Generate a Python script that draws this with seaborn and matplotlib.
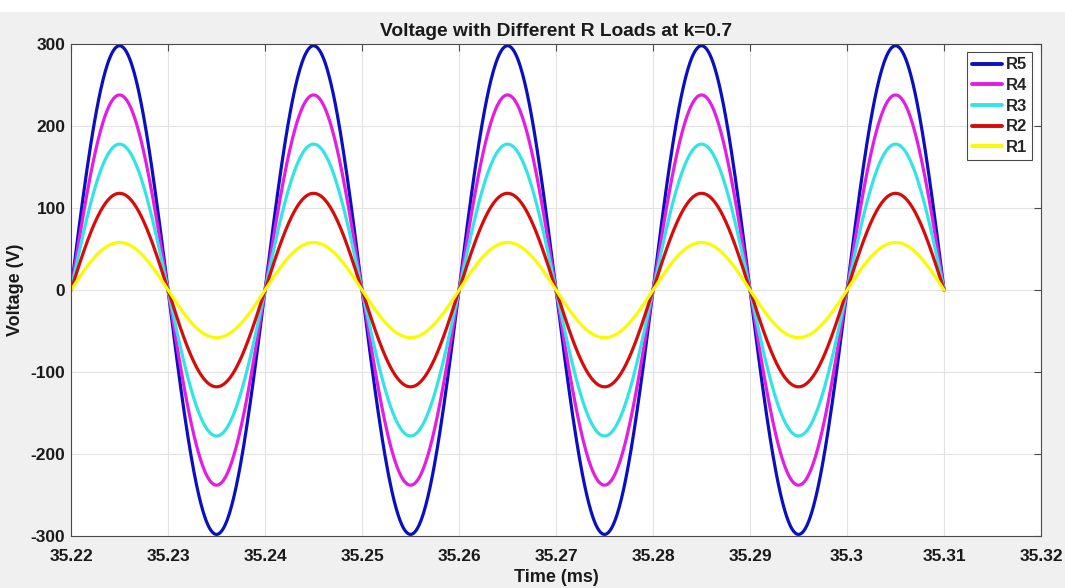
import numpy as np
import pandas as pd
import matplotlib
matplotlib.use("Agg")
import matplotlib.pyplot as plt
from matplotlib.patches import Rectangle
import seaborn as sns

# ---- data ----
series_names = ["R5", "R4", "R3", "R2", "R1"]
amplitudes = [298, 238, 178, 118, 58]          # peak voltage (V)
t_start, t_end = 35.22, 35.31                  # time span (ms)
period = 0.02                                  # waveform period (ms)
x_ticks = [35.22, 35.23, 35.24, 35.25, 35.26, 35.27, 35.28, 35.29, 35.30, 35.31, 35.32]
x_tick_labels = ["35.22", "35.23", "35.24", "35.25", "35.26", "35.27",
                 "35.28", "35.29", "35.3", "35.31", "35.32"]
y_ticks = [-300, -200, -100, 0, 100, 200, 300]
colors = {"R5": "#0a0fc0", "R4": "#e31ee3", "R3": "#33e3e6",
          "R2": "#d80a0a", "R1": "#fafa00"}

t = np.linspace(t_start, t_end, 1200)
frames = []
for name, amp in zip(series_names, amplitudes):
    frames.append(pd.DataFrame({"Time": t,
                                "Voltage": amp * np.sin(2 * np.pi * (t - t_start) / period),
                                "Load": name}))
df = pd.concat(frames, ignore_index=True)

sns.set_theme(style="whitegrid")
plt.rcParams["font.family"] = ["Liberation Sans", "DejaVu Sans"]
plt.rcParams["font.weight"] = "bold"
plt.rcParams["axes.unicode_minus"] = False

fig = plt.figure(figsize=(10.65, 5.88), dpi=100, facecolor="#f0f0f0")
ax = fig.add_axes([0.0667, 0.0884, 0.9108, 0.8366])
fig.patches.append(Rectangle((0, 1 - 12 / 588), 1, 12 / 588, transform=fig.transFigure,
                             facecolor="white", edgecolor="none", zorder=-1))

sns.lineplot(data=df, x="Time", y="Voltage", hue="Load", hue_order=series_names,
             palette=colors, linewidth=2.3, ax=ax, legend=True, estimator=None, sort=False)

ax.set_facecolor("white")
ax.set_xlim(35.22, 35.32)
ax.set_ylim(-300, 300)
ax.set_xticks(x_ticks)
ax.set_xticklabels(x_tick_labels)
ax.set_yticks(y_ticks)
ax.grid(True, color="#e3e3e3", linewidth=0.8)
for sp in ax.spines.values():
    sp.set_visible(True)
    sp.set_color("#4a4a4a")
    sp.set_linewidth(0.8)
ax.tick_params(axis="both", direction="in", length=5, width=0.8, color="#4a4a4a",
               top=True, right=True, labelsize=12.5, labelcolor="#1a1a1a")
ax.tick_params(axis="x", pad=9)
ax.tick_params(axis="y", pad=4)
for lab in ax.get_xticklabels() + ax.get_yticklabels():
    lab.set_fontweight("bold")

ax.set_title("Voltage with Different R Loads at k=0.7", fontsize=13.8, fontweight="bold",
             color="#1a1a1a", pad=6)
ax.set_xlabel("Time (ms)", fontsize=13, fontweight="bold", color="#1a1a1a", labelpad=4)
ax.set_ylabel("Voltage (V)", fontsize=13, fontweight="bold", color="#1a1a1a", labelpad=5)

leg = ax.legend(loc="upper right", bbox_to_anchor=(0.9907, 0.983), frameon=True,
                fancybox=False, edgecolor="#4a4a4a", facecolor="white", framealpha=1,
                handlelength=1.8, handletextpad=0.25, labelspacing=0.34,
                borderpad=0.3, borderaxespad=0.0,
                prop={"weight": "bold", "size": 12})
leg.get_frame().set_linewidth(0.8)
for h in leg.get_lines():
    h.set_linewidth(2.8)

fig.savefig("out.png", dpi=100, facecolor=fig.get_facecolor())
